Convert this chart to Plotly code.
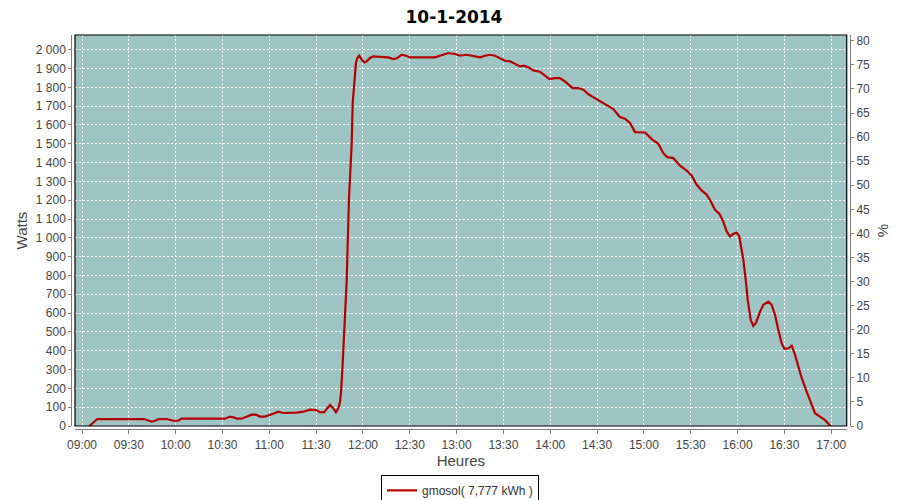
import pandas as pd
import plotly.graph_objects as go

title_text = "10-1-2014"
series_name = "gmosol( 7,777 kWh )"

times = [
    "09:04:42", "09:09:48", "09:39:42", "09:42:54", "09:44:48", "09:46:48", "09:49:18", "09:54:18",
    "09:56:24", "09:58:30", "10:01:42", "10:03:48", "10:31:36", "10:34:48", "10:38:00", "10:39:06",
    "10:42:18", "10:46:30", "10:48:42", "10:51:30", "10:54:00", "10:57:12", "11:00:00", "11:02:30",
    "11:05:48", "11:09:00", "11:17:30", "11:21:48", "11:26:06", "11:30:00", "11:32:30", "11:35:12",
    "11:38:54", "11:41:00", "11:42:42", "11:44:12", "11:45:18", "11:45:54", "11:46:48", "11:47:24",
    "11:48:00", "11:48:54", "11:49:36", "11:51:00", "11:52:48", "11:53:24", "11:54:12", "11:54:54",
    "11:55:30", "11:56:24", "11:57:36", "11:59:12", "12:00:54", "12:02:24", "12:04:30", "12:06:36",
    "12:16:12", "12:19:24", "12:21:36", "12:24:48", "12:27:36", "12:30:06", "12:46:06", "12:49:18",
    "12:54:42", "12:59:00", "13:02:12", "13:06:24", "13:11:48", "13:15:00", "13:18:12", "13:21:24",
    "13:24:36", "13:27:48", "13:31:00", "13:34:12", "13:37:24", "13:40:36", "13:43:06", "13:45:54",
    "13:49:06", "13:53:24", "13:56:36", "13:59:24", "14:03:00", "14:06:12", "14:09:24", "14:11:30",
    "14:14:18", "14:17:54", "14:21:12", "14:24:18", "14:27:36", "14:31:24", "14:36:06", "14:40:24",
    "14:44:36", "14:47:48", "14:51:06", "14:54:18", "15:00:42", "15:05:00", "15:09:12", "15:12:24",
    "15:15:00", "15:18:48", "15:23:06", "15:27:24", "15:30:36", "15:33:48", "15:37:00", "15:40:12",
    "15:42:54", "15:45:30", "15:48:18", "15:50:48", "15:53:00", "15:55:06", "15:57:12", "15:59:24",
    "16:01:06", "16:03:42", "16:05:12", "16:06:30", "16:08:24", "16:10:06", "16:11:48", "16:14:24",
    "16:16:30", "16:19:42", "16:21:48", "16:24:00", "16:26:06", "16:28:12", "16:30:00", "16:32:36",
    "16:34:42", "16:36:48", "16:39:00", "16:41:06", "16:44:18", "16:47:06", "16:49:36", "16:52:48",
    "16:56:00", "16:59:30",
]

watts = [
    0, 37, 37, 28, 23, 28, 37, 37,
    32, 28, 28, 39, 39, 50, 44, 39,
    39, 53, 60, 60, 50, 50, 60, 65,
    76, 69, 71, 76, 87, 85, 73, 73,
    112, 94, 73, 94, 129, 174, 298, 422,
    546, 688, 777, 1202, 1504, 1716, 1787, 1858,
    1929, 1956, 1968, 1947, 1932, 1938, 1956, 1964,
    1959, 1950, 1954, 1973, 1968, 1959, 1959, 1968,
    1982, 1977, 1968, 1973, 1964, 1959, 1968, 1973,
    1968, 1956, 1941, 1938, 1924, 1911, 1915, 1906,
    1890, 1883, 1862, 1844, 1849, 1849, 1831, 1814,
    1796, 1796, 1787, 1764, 1748, 1730, 1707, 1684,
    1642, 1633, 1610, 1562, 1560, 1525, 1500, 1450,
    1429, 1424, 1383, 1358, 1330, 1282, 1252, 1229,
    1193, 1149, 1128, 1087, 1034, 1007, 1020, 1028,
    1007, 883, 777, 670, 564, 532, 549, 608,
    644, 661, 644, 590, 511, 440, 410, 413,
    426, 378, 315, 254, 182, 121, 68, 50,
    32, 0,
]

day = "2014-01-10"
x_range = ["08:55:31", "17:09:54"]
y_range = [0, 2078]
pct_range = [0, 81.2]

x_vals = pd.to_datetime([f"{day} {t}" for t in times])

fig = go.Figure()
fig.add_trace(go.Scatter(
    x=x_vals, y=watts, mode="lines", name=series_name,
    line=dict(color="#B40000", width=2.2), yaxis="y",
))
# empty series bound to the percentage axis so that the right axis is drawn
fig.add_trace(go.Scatter(
    x=x_vals[:1], y=[None], mode="lines", yaxis="y2", showlegend=False, hoverinfo="skip",
))

tick_font = dict(family="Liberation Sans, Arial, sans-serif", size=12, color="#444444")
title_font = dict(family="Liberation Sans, Arial, sans-serif", size=15, color="#444444")
axis_grey = "#808080"
grid_dash = "2px,2px"

# the page body adds an 8px offset, so the figure is 892x492 inside the 900x500 window
fig.update_layout(
    width=892, height=492,
    margin=dict(l=52, r=40, t=27, b=68, autoexpand=False),
    paper_bgcolor="white",
    plot_bgcolor="#9FC4C4",
    separators=", ",
    showlegend=True,
    title=dict(text=f"<b>{title_text}</b>", x=0.5, xanchor="center", y=0.994, yanchor="top",
               pad=dict(t=0, b=0),
               font=dict(family="DejaVu Sans, sans-serif", size=17, color="black")),
    xaxis=dict(
        type="date",
        domain=[0.01875, 0.98338],
        anchor="free", position=0.0068, automargin=False,
        range=[f"{day} {x_range[0]}", f"{day} {x_range[1]}"],
        tickformat="%H:%M", dtick=30 * 60 * 1000, tick0=f"{day} 09:00:00",
        ticks="outside", ticklen=4, tickcolor=axis_grey,
        showline=True, linecolor=axis_grey, linewidth=1,
        showgrid=True, gridcolor="white", griddash=grid_dash, gridwidth=1,
        zeroline=False,
        tickfont=tick_font,
        title=dict(text="Heures", font=title_font, standoff=4),
    ),
    yaxis=dict(
        domain=[0.0151, 1.0],
        anchor="free", position=0.01413, automargin=False,
        range=y_range, dtick=100, tick0=0,
        separatethousands=True,
        ticks="outside", ticklen=3, tickcolor=axis_grey,
        showline=True, linecolor=axis_grey, linewidth=1,
        showgrid=True, gridcolor="white", griddash=grid_dash, gridwidth=1,
        zeroline=False,
        tickfont=tick_font,
        title=dict(text="Watts", font=title_font, standoff=3),
    ),
    yaxis2=dict(
        overlaying="y", side="right",
        anchor="free", position=0.9875, automargin=False,
        range=pct_range, dtick=5, tick0=0,
        ticks="outside", ticklen=3, tickcolor=axis_grey,
        showline=True, linecolor=axis_grey, linewidth=1,
        showgrid=False, zeroline=False,
        tickfont=tick_font,
        title=dict(text="%", font=title_font, standoff=8),
    ),
    legend=dict(
        orientation="h", x=0.5, xanchor="center", y=-0.108, yanchor="top",
        bordercolor="black", borderwidth=1, bgcolor="white",
        font=dict(family="Liberation Sans, Arial, sans-serif", size=12, color="#333333"),
        itemwidth=30,
    ),
    shapes=[dict(type="rect", xref="x domain", yref="y domain", x0=0, x1=1, y0=0, y1=1,
                 line=dict(color="black", width=1.2), fillcolor="rgba(0,0,0,0)", layer="above")],
)

fig.write_html("out.html")
